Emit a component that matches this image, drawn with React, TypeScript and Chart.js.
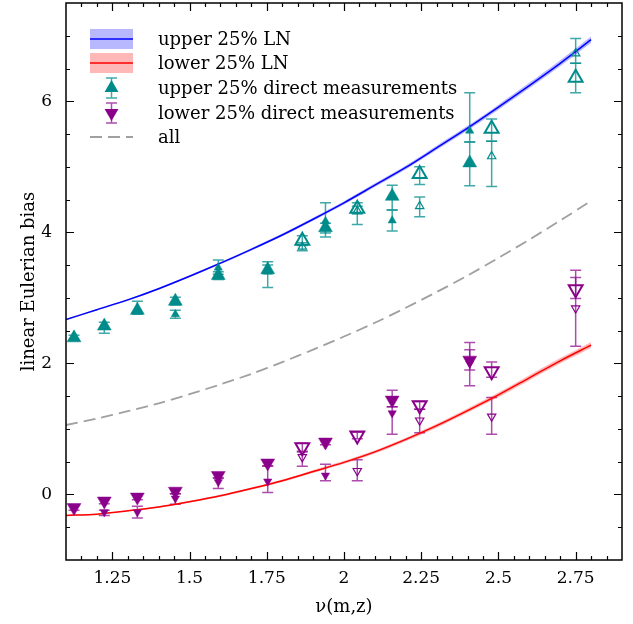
import React, { useEffect, useRef } from 'react';
import { Chart, registerables } from 'chart.js';

Chart.register(...registerables);

// ---- axis limits & ticks ----
const xMin = 1.1;
const xMax = 2.9;
const yMin = -1;
const yMax = 7.5;
const xTickValues = [1.25, 1.5, 1.75, 2, 2.25, 2.5, 2.75];
const xTickLabels = ['1.25', '1.5', '1.75', '2', '2.25', '2.5', '2.75'];
const yTickValues = [0, 2, 4, 6];
const yTickLabels = ['0', '2', '4', '6'];
const xMinorStep = 0.05;
const yMinorStep = 0.5;

// ---- model curves ----
const curveNu = [1.1, 1.2, 1.3, 1.4, 1.5, 1.6, 1.7, 1.8, 1.9, 2.0, 2.1, 2.2, 2.3, 2.4, 2.5, 2.6, 2.7, 2.8];
const upperLN = [2.67, 2.82, 2.97, 3.14, 3.33, 3.53, 3.74, 3.96, 4.2, 4.45, 4.72, 4.99, 5.29, 5.59, 5.91, 6.24, 6.58, 6.94];
const upperLNBand = [0.01, 0.01, 0.012, 0.014, 0.015, 0.017, 0.019, 0.021, 0.023, 0.025, 0.028, 0.03, 0.033, 0.036, 0.039, 0.042, 0.046, 0.05];
const lowerLN = [-0.32, -0.3, -0.25, -0.19, -0.11, -0.02, 0.09, 0.21, 0.35, 0.49, 0.65, 0.84, 1.05, 1.28, 1.52, 1.78, 2.04, 2.28];
const lowerLNBand = [0.01, 0.01, 0.011, 0.012, 0.013, 0.015, 0.017, 0.019, 0.021, 0.023, 0.025, 0.027, 0.03, 0.033, 0.036, 0.039, 0.042, 0.045];
const allBias = [1.06, 1.16, 1.27, 1.39, 1.53, 1.68, 1.84, 2.02, 2.21, 2.41, 2.62, 2.85, 3.09, 3.34, 3.61, 3.89, 4.18, 4.48];

// ---- upper 25% direct measurements ----
const upBigFilledNu = [1.126, 1.224, 1.331, 1.454, 1.593, 1.753, 1.94, 2.156, 2.407];
const upBigFilledB = [2.39, 2.57, 2.81, 2.95, 3.34, 3.43, 4.07, 4.55, 5.06];
const upBigFilledLo = [2.35, 2.46, 2.75, 2.89, 3.28, 3.37, 3.99, 4.34, 4.71];
const upBigFilledHi = [2.43, 2.63, 2.95, 3.01, 3.4, 3.5, 4.14, 4.72, 5.38];

const upSmallFilledNu = [1.454, 1.593, 1.753, 1.94, 2.156, 2.407];
const upSmallFilledB = [2.75, 3.46, 3.4, 4.17, 4.18, 5.55];
const upSmallFilledLo = [2.69, 3.36, 3.16, 3.93, 4.02, 5.38];
const upSmallFilledHi = [2.81, 3.58, 3.55, 4.45, 4.34, 6.13];

const upBigOpenNu = [1.865, 2.043, 2.245, 2.478, 2.75];
const upBigOpenB = [3.87, 4.36, 4.89, 5.58, 6.36];
const upBigOpenLo = [3.8, 4.28, 4.73, 5.39, 6.13];
const upBigOpenHi = [3.95, 4.45, 5.0, 5.73, 6.58];

const upSmallOpenNu = [1.865, 2.043, 2.245, 2.478, 2.75];
const upSmallOpenB = [3.78, 4.33, 4.4, 5.16, 6.73];
const upSmallOpenLo = [3.72, 4.12, 4.24, 4.7, 6.58];
const upSmallOpenHi = [3.84, 4.4, 4.54, 5.39, 6.96];

// ---- lower 25% direct measurements ----
const loBigFilledNu = [1.126, 1.224, 1.331, 1.454, 1.593, 1.753, 1.94, 2.156, 2.407];
const loBigFilledB = [-0.2, -0.1, -0.04, 0.05, 0.29, 0.48, 0.8, 1.44, 2.05];
const loBigFilledLo = [-0.24, -0.14, -0.08, 0.01, 0.25, 0.44, 0.76, 1.34, 1.9];
const loBigFilledHi = [-0.16, -0.06, 0.0, 0.09, 0.33, 0.52, 0.84, 1.59, 2.21];

const loSmallFilledNu = [1.224, 1.331, 1.454, 1.593, 1.753, 1.94, 2.156, 2.407];
const loSmallFilledB = [-0.27, -0.27, -0.06, 0.19, 0.2, 0.29, 1.24, 2.0];
const loSmallFilledLo = [-0.32, -0.36, -0.15, 0.09, 0.03, 0.21, 0.92, 1.66];
const loSmallFilledHi = [-0.24, -0.18, 0.01, 0.25, 0.43, 0.46, 1.34, 2.32];

const loBigOpenNu = [1.865, 2.043, 2.245, 2.478, 2.75];
const loBigOpenB = [0.72, 0.9, 1.36, 1.88, 3.13];
const loBigOpenLo = [0.66, 0.85, 1.3, 1.79, 2.99];
const loBigOpenHi = [0.78, 0.95, 1.42, 2.02, 3.42];

const loSmallOpenNu = [1.865, 2.043, 2.245, 2.478, 2.75];
const loSmallOpenB = [0.57, 0.36, 1.13, 1.19, 2.84];
const loSmallOpenLo = [0.43, 0.21, 0.94, 0.92, 2.26];
const loSmallOpenHi = [0.65, 0.53, 1.3, 1.48, 3.31];

// ---- legend ----
const legendLabels = [
  'upper 25% LN',
  'lower 25% LN',
  'upper 25% direct measurements',
  'lower 25% direct measurements',
  'all',
];

const FONT = '"DejaVu Serif", serif';
const TEAL = 'rgb(0,139,139)';
const TEAL_ERR = 'rgba(0,139,139,0.75)';
const PURPLE = 'rgb(139,0,139)';
const PURPLE_ERR = 'rgba(139,0,139,0.7)';
const BLUE = 'rgb(0,0,255)';
const BLUE_BAND = 'rgba(0,0,255,0.28)';
const RED = 'rgb(255,0,0)';
const RED_BAND = 'rgba(255,0,0,0.28)';
const GRAY = 'rgb(160,160,160)';

const pts = (xs: number[], ys: number[]) => xs.map((x, i) => ({ x, y: ys[i] }));

function markerSet(label: string, xs: number[], ys: number[], lo: number[], hi: number[], color: string, errColor: string, inverted: boolean, big: boolean, filled: boolean) {
  return {
    type: 'scatter',
    label,
    data: pts(xs, ys),
    showLine: false,
    pointStyle: 'triangle',
    rotation: inverted ? 180 : 0,
    pointRadius: big ? 8 : 4.8,
    pointHoverRadius: big ? 8 : 4.8,
    backgroundColor: filled ? color : 'rgba(255,255,255,0)',
    borderColor: color,
    borderWidth: filled ? 0.5 : big ? 2 : 1.2,
    errLo: lo,
    errHi: hi,
    errColor,
    order: 1,
  } as any;
}

function trianglePath(ctx: CanvasRenderingContext2D, x: number, y: number, r: number, inverted: boolean) {
  let rad = inverted ? Math.PI : 0;
  ctx.beginPath();
  for (let k = 0; k < 3; k++) {
    const px = x + Math.sin(rad) * r;
    const py = y - Math.cos(rad) * r;
    if (k === 0) ctx.moveTo(px, py);
    else ctx.lineTo(px, py);
    rad += (2 * Math.PI) / 3;
  }
  ctx.closePath();
}

const errorBarPlugin = {
  id: 'errorBars',
  beforeDatasetsDraw(chart: any) {
    const { ctx, chartArea } = chart;
    const xs = chart.scales.x;
    const ys = chart.scales.y;
    ctx.save();
    ctx.beginPath();
    ctx.rect(chartArea.left, chartArea.top, chartArea.right - chartArea.left, chartArea.bottom - chartArea.top);
    ctx.clip();
    chart.data.datasets.forEach((ds: any) => {
      if (!ds.errLo) return;
      ctx.strokeStyle = ds.errColor;
      ctx.lineWidth = 1.5;
      ds.data.forEach((p: any, i: number) => {
        const px = xs.getPixelForValue(p.x);
        const y1 = ys.getPixelForValue(ds.errLo[i]);
        const y2 = ys.getPixelForValue(ds.errHi[i]);
        ctx.beginPath();
        ctx.moveTo(px, y1);
        ctx.lineTo(px, y2);
        ctx.moveTo(px - 5.5, y1);
        ctx.lineTo(px + 5.5, y1);
        ctx.moveTo(px - 5.5, y2);
        ctx.lineTo(px + 5.5, y2);
        ctx.stroke();
      });
    });
    ctx.restore();
  },
};

const framePlugin = {
  id: 'frameTicks',
  afterDraw(chart: any) {
    const { ctx, chartArea } = chart;
    const xs = chart.scales.x;
    const ys = chart.scales.y;
    const { left, right, top, bottom } = chartArea;
    ctx.save();
    ctx.strokeStyle = '#000';
    ctx.lineWidth = 1.5;
    ctx.strokeRect(left, top, right - left, bottom - top);
    ctx.lineWidth = 1.2;
    ctx.beginPath();
    const nX = Math.round((xMax - xMin) / xMinorStep);
    for (let k = 1; k < nX; k++) {
      const v = xMin + k * xMinorStep;
      const major = xTickValues.some((t) => Math.abs(t - v) < 1e-6);
      const len = major ? 8 : 4;
      const px = Math.round(xs.getPixelForValue(v)) + 0.5;
      ctx.moveTo(px, bottom);
      ctx.lineTo(px, bottom - len);
      ctx.moveTo(px, top);
      ctx.lineTo(px, top + len);
    }
    const nY = Math.round((yMax - yMin) / yMinorStep);
    for (let k = 1; k < nY; k++) {
      const v = yMin + k * yMinorStep;
      const major = yTickValues.some((t) => Math.abs(t - v) < 1e-6);
      const len = major ? 8 : 4;
      const py = Math.round(ys.getPixelForValue(v)) + 0.5;
      ctx.moveTo(left, py);
      ctx.lineTo(left + len, py);
      ctx.moveTo(right, py);
      ctx.lineTo(right - len, py);
    }
    ctx.stroke();

    // legend
    const x0 = 90;
    const w = 43;
    const rows = [39, 63, 88, 113, 137];
    const tx = 158;
    ctx.fillStyle = BLUE_BAND;
    ctx.fillRect(x0, rows[0] - 10, w, 20);
    ctx.fillStyle = RED_BAND;
    ctx.fillRect(x0, rows[1] - 10, w, 20);
    ctx.lineWidth = 1.5;
    ctx.strokeStyle = BLUE;
    ctx.beginPath();
    ctx.moveTo(x0, rows[0]);
    ctx.lineTo(x0 + w, rows[0]);
    ctx.stroke();
    ctx.strokeStyle = RED;
    ctx.beginPath();
    ctx.moveTo(x0, rows[1]);
    ctx.lineTo(x0 + w, rows[1]);
    ctx.stroke();
    const cx = x0 + w / 2;
    const drawErr = (cy: number, color: string) => {
      ctx.strokeStyle = color;
      ctx.lineWidth = 1.5;
      ctx.beginPath();
      ctx.moveTo(cx, cy - 10);
      ctx.lineTo(cx, cy + 10);
      ctx.moveTo(cx - 5.5, cy - 10);
      ctx.lineTo(cx + 5.5, cy - 10);
      ctx.moveTo(cx - 5.5, cy + 10);
      ctx.lineTo(cx + 5.5, cy + 10);
      ctx.stroke();
    };
    drawErr(rows[2], TEAL_ERR);
    ctx.fillStyle = TEAL;
    trianglePath(ctx, cx, rows[2], 8, false);
    ctx.fill();
    drawErr(rows[3], PURPLE_ERR);
    ctx.fillStyle = PURPLE;
    trianglePath(ctx, cx, rows[3], 8, true);
    ctx.fill();
    ctx.strokeStyle = GRAY;
    ctx.lineWidth = 1.8;
    ctx.setLineDash([12, 6]);
    ctx.beginPath();
    ctx.moveTo(x0, rows[4]);
    ctx.lineTo(x0 + w, rows[4]);
    ctx.stroke();
    ctx.setLineDash([]);
    ctx.fillStyle = '#000';
    ctx.font = '18px ' + FONT;
    ctx.textAlign = 'left';
    ctx.textBaseline = 'middle';
    legendLabels.forEach((t, i) => ctx.fillText(t, tx, rows[i] + 1));
    ctx.restore();
  },
};

const zeroPad = (s: any) => {
  s.paddingTop = 0;
  s.paddingBottom = 0;
  s.paddingLeft = 0;
  s.paddingRight = 0;
};

export default function App() {
  const ref = useRef<HTMLCanvasElement | null>(null);

  useEffect(() => {
    if (!ref.current) return;
    const lineBase = {
      type: 'line',
      showLine: true,
      pointRadius: 0,
      pointHoverRadius: 0,
      tension: 0.3,
      order: 5,
    };
    const chart = new Chart(ref.current, {
      type: 'scatter',
      data: {
        datasets: [
          { ...lineBase, label: 'ubandlo', data: pts(curveNu, upperLN.map((v, i) => v - upperLNBand[i])), borderWidth: 0, borderColor: 'rgba(0,0,0,0)', fill: false } as any,
          { ...lineBase, label: 'ubandhi', data: pts(curveNu, upperLN.map((v, i) => v + upperLNBand[i])), borderWidth: 0, borderColor: 'rgba(0,0,0,0)', backgroundColor: BLUE_BAND, fill: '-1' } as any,
          { ...lineBase, label: 'lbandlo', data: pts(curveNu, lowerLN.map((v, i) => v - lowerLNBand[i])), borderWidth: 0, borderColor: 'rgba(0,0,0,0)', fill: false } as any,
          { ...lineBase, label: 'lbandhi', data: pts(curveNu, lowerLN.map((v, i) => v + lowerLNBand[i])), borderWidth: 0, borderColor: 'rgba(0,0,0,0)', backgroundColor: RED_BAND, fill: '-1' } as any,
          { ...lineBase, label: legendLabels[0], data: pts(curveNu, upperLN), borderColor: BLUE, borderWidth: 1.5, fill: false } as any,
          { ...lineBase, label: legendLabels[1], data: pts(curveNu, lowerLN), borderColor: RED, borderWidth: 1.5, fill: false } as any,
          { ...lineBase, label: legendLabels[4], data: pts(curveNu, allBias), borderColor: GRAY, borderWidth: 1.8, borderDash: [12, 6], fill: false } as any,
          markerSet('up big filled', upBigFilledNu, upBigFilledB, upBigFilledLo, upBigFilledHi, TEAL, TEAL_ERR, false, true, true),
          markerSet('up small filled', upSmallFilledNu, upSmallFilledB, upSmallFilledLo, upSmallFilledHi, TEAL, TEAL_ERR, false, false, true),
          markerSet('up big open', upBigOpenNu, upBigOpenB, upBigOpenLo, upBigOpenHi, TEAL, TEAL_ERR, false, true, false),
          markerSet('up small open', upSmallOpenNu, upSmallOpenB, upSmallOpenLo, upSmallOpenHi, TEAL, TEAL_ERR, false, false, false),
          markerSet('lo big filled', loBigFilledNu, loBigFilledB, loBigFilledLo, loBigFilledHi, PURPLE, PURPLE_ERR, true, true, true),
          markerSet('lo small filled', loSmallFilledNu, loSmallFilledB, loSmallFilledLo, loSmallFilledHi, PURPLE, PURPLE_ERR, true, false, true),
          markerSet('lo big open', loBigOpenNu, loBigOpenB, loBigOpenLo, loBigOpenHi, PURPLE, PURPLE_ERR, true, true, false),
          markerSet('lo small open', loSmallOpenNu, loSmallOpenB, loSmallOpenLo, loSmallOpenHi, PURPLE, PURPLE_ERR, true, false, false),
        ],
      },
      options: {
        responsive: false,
        animation: false,
        devicePixelRatio: 1,
        layout: { autoPadding: false, padding: { top: 3, right: 11, left: 0, bottom: 0 } },
        plugins: {
          legend: { display: false },
          tooltip: { enabled: false },
        },
        scales: {
          x: {
            type: 'linear',
            min: xMin,
            max: xMax,
            afterFit: (s: any) => { s.height = 64; zeroPad(s); },
            afterBuildTicks: (s: any) => { s.ticks = xTickValues.map((v) => ({ value: v })); },
            grid: { display: false, drawTicks: false },
            border: { display: false },
            ticks: {
              autoSkip: false,
              maxRotation: 0,
              padding: 8,
              color: '#000',
              font: { family: FONT, size: 17 },
              callback: (v: any) => { const i = xTickValues.findIndex((t) => Math.abs(t - v) < 1e-6); return i >= 0 ? xTickLabels[i] : ''; },
            },
            title: { display: true, text: 'ν(m,z)', color: '#000', font: { family: FONT, size: 18 }, padding: { top: 0, bottom: 6 } },
          },
          y: {
            type: 'linear',
            min: yMin,
            max: yMax,
            afterFit: (s: any) => { s.width = 66; zeroPad(s); },
            afterBuildTicks: (s: any) => { s.ticks = yTickValues.map((v) => ({ value: v })); },
            grid: { display: false, drawTicks: false },
            border: { display: false },
            ticks: {
              autoSkip: false,
              padding: 14,
              color: '#000',
              font: { family: FONT, size: 17 },
              callback: (v: any) => { const i = yTickValues.findIndex((t) => Math.abs(t - v) < 1e-6); return i >= 0 ? yTickLabels[i] : ''; },
            },
            title: { display: true, text: 'linear Eulerian bias', color: '#000', font: { family: FONT, size: 18 }, padding: { top: 19, bottom: 0 } },
          },
        },
      } as any,
      plugins: [errorBarPlugin, framePlugin],
    });
    return () => chart.destroy();
  }, []);

  return (
    <div style={{ position: 'absolute', left: 0, top: 0, width: 633, height: 624 }}>
      <canvas ref={ref} width={633} height={624} style={{ width: 633, height: 624, display: 'block' }} />
    </div>
  );
}
